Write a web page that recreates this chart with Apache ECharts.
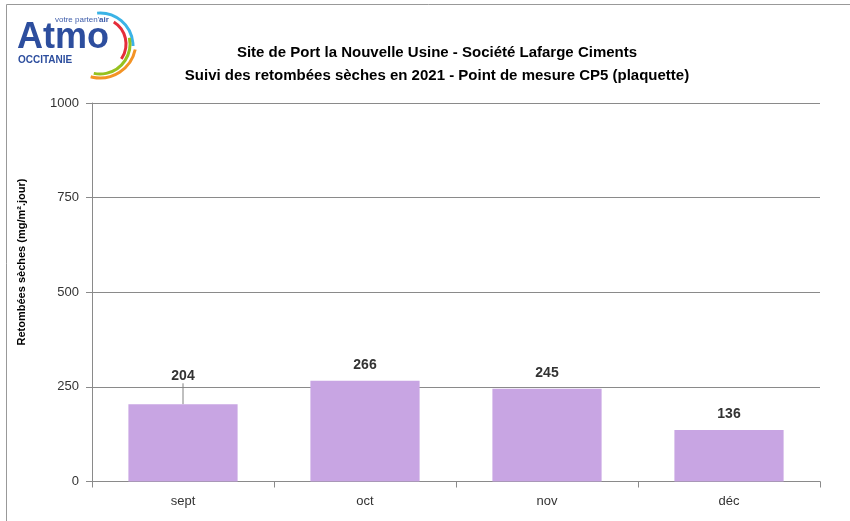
<!DOCTYPE html>
<html>
<head>
<meta charset="utf-8">
<script src="https://cdn.jsdelivr.net/npm/echarts@6/dist/echarts.min.js"></script>
<style>html,body{margin:0;padding:0;background:#fff;}#c{width:850px;height:521px;}</style>
</head>
<body>
<div id="c"></div>
<script>
const categories = ['sept', 'oct', 'nov', 'déc'];
const values = [204, 266, 245, 136];
const yTicks = [0, 250, 500, 750, 1000];
const titleLines = ['Site de Port la Nouvelle Usine - Société Lafarge Ciments', 'Suivi des retombées sèches en 2021 - Point de mesure CP5 (plaquette)'];
const yName = 'Retombées sèches (mg/m².jour)';

const chart = echarts.init(document.getElementById('c'), null, {renderer: 'canvas'});
const font = '"Liberation Sans", Arial, sans-serif';
const gray = '#8a8a8a';
const arcs = [
  {cx: 100, cy: 46, r: 33, s: -95, e: 0, c: '#3bb3e6'},
  {cx: 100, cy: 44, r: 26, s: -58, e: 35, c: '#e52d3a'},
  {cx: 100, cy: 44, r: 30, s: -12, e: 102, c: '#96c11f'},
  {cx: 100, cy: 42, r: 36, s: 12, e: 105, c: '#f39325'}
];
const seriesData = values.map((v, i) => i === 0
  ? {value: v, labelLine: {show: true, lineStyle: {color: '#808080', width: 1}}}
  : {value: v, labelLine: {show: false}});
chart.setOption({
  animation: false,
  title: {
    text: titleLines.join('\n'),
    left: 432, top: 36, textAlign: 'center',
    textStyle: {fontFamily: font, fontSize: 15, fontWeight: 'bold', color: '#000', lineHeight: 23}
  },
  grid: {left: 92, right: 30, top: 103, bottom: 39.5, containLabel: false},
  xAxis: {
    type: 'category', data: categories,
    axisLine: {lineStyle: {color: gray}},
    axisTick: {show: true, length: 6, lineStyle: {color: gray}},
    axisLabel: {fontFamily: font, fontSize: 13, color: '#333', margin: 13}
  },
  yAxis: {
    type: 'value', min: yTicks[0], max: yTicks[yTicks.length - 1], interval: 250,
    axisLine: {show: true, lineStyle: {color: gray}},
    axisTick: {show: true, length: 6, lineStyle: {color: gray}},
    axisLabel: {fontFamily: font, fontSize: 13, color: '#333', margin: 13, formatter: v => String(v)},
    splitLine: {lineStyle: {color: gray}}
  },
  series: [{
    type: 'bar', data: seriesData, barWidth: '60%',
    itemStyle: {color: '#c8a5e3'},
    label: {show: true, position: 'top', distance: 9, fontFamily: font, fontSize: 14, fontWeight: 'bold', color: '#333'},
    labelLine: {show: false},
    labelLayout: function (p) { return p.dataIndex === 0 ? {dy: -12} : {}; }
  }],
  graphic: [
    {type: 'rect', shape: {x: 6.5, y: 4.5, width: 900, height: 600}, style: {fill: 'none', stroke: '#999', lineWidth: 1}, silent: true},
    {type: 'text', x: 22, y: 262, rotation: Math.PI / 2,
      style: {text: yName, font: 'bold 11px ' + font, fill: '#000', align: 'center', verticalAlign: 'middle'}},
    {type: 'text', x: 17, y: 20, style: {text: 'Atmo', font: 'bold 36px ' + font, fill: '#2d4e9e'}},
    {type: 'text', x: 18, y: 55, style: {text: 'OCCITANIE', font: 'bold 10px ' + font, fill: '#2d4e9e'}},
    {type: 'text', x: 55, y: 16, style: {text: "votre parten'", font: '8px ' + font, fill: '#3d5caa'}},
    {type: 'text', x: 99, y: 16, style: {text: 'air', font: 'bold 8px ' + font, fill: '#3d5caa'}}
  ].concat(arcs.map(a => ({
    type: 'arc', shape: {cx: a.cx, cy: a.cy, r: a.r, startAngle: a.s * Math.PI / 180, endAngle: a.e * Math.PI / 180},
    style: {fill: 'none', stroke: a.c, lineWidth: 3}
  })))
});
</script>
</body>
</html>
